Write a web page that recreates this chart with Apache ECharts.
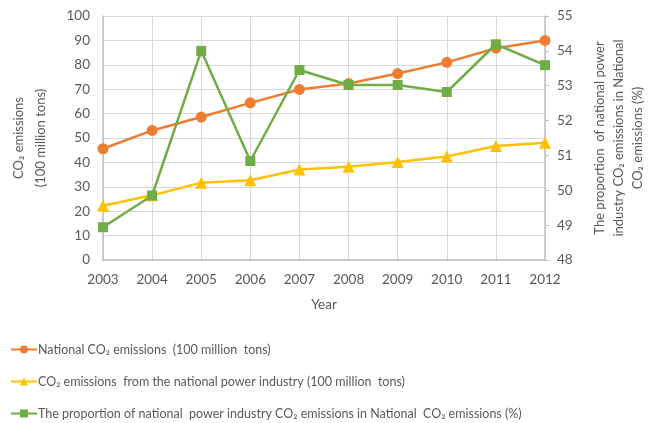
<!DOCTYPE html>
<html><head><meta charset="utf-8">
<script src="https://cdn.jsdelivr.net/npm/echarts@6/dist/echarts.min.js"></script>
<style>html,body{margin:0;padding:0;background:#fff}#c{width:671px;height:423px}</style>
</head><body><div id="c"></div>
<script>
const years = ['2003','2004','2005','2006','2007','2008','2009','2010','2011','2012'];
const nationalCO2 = [45.6, 53.1, 58.6, 64.4, 69.9, 72.3, 76.4, 81.0, 86.8, 90.0];
const powerCO2 = [22.2, 26.5, 31.7, 32.7, 37.1, 38.2, 40.2, 42.4, 46.7, 48.1];
const proportion = [48.94, 49.85, 54.0, 50.84, 53.45, 53.02, 53.02, 52.82, 54.19, 53.59];
const leftTicks = {min: 0, max: 100, interval: 10};
const rightTicks = {min: 48, max: 55, interval: 1};
const names = [
  'National CO₂ emissions  (100 million  tons)',
  'CO₂ emissions  from the national power industry (100 million  tons)',
  'The proportion of national  power industry CO₂ emissions in National  CO₂ emissions (%)'
];
const FONT = 'Lato, "Open Sans", sans-serif';
const TXT = '#595959';
const chart = echarts.init(document.getElementById('c'));
chart.setOption({
  animation: false,
  textStyle: {fontFamily: FONT, color: TXT},
  grid: {left: 90, right: 126, top: 16, bottom: 163, containLabel: false},
  legend: {
    orient: 'vertical', left: 5, top: 343, padding: [0, 5], itemGap: 19, itemWidth: 26, itemHeight: 10,
    height: 80,
    textStyle: {fontFamily: FONT, fontSize: 12.5, color: TXT, padding: [0,0,0,-4]},
    data: names
  },
  xAxis: {
    type: 'category', data: years, boundaryGap: false,
    name: 'Year', nameLocation: 'middle', nameGap: 38,
    nameTextStyle: {fontSize: 13.5, color: TXT, fontFamily: FONT},
    axisLine: {lineStyle: {color: '#BFBFBF', width: 1.5}},
    axisTick: {show: false},
    axisLabel: {fontSize: 13.5, color: TXT, margin: 13, fontFamily: FONT},
    splitLine: {show: true, lineStyle: {color: '#D9D9D9', width: 1}}
  },
  yAxis: [{
    type: 'value', min: leftTicks.min, max: leftTicks.max, interval: leftTicks.interval,
    name: 'CO₂ emissions\n(100 million tons)', nameLocation: 'middle', nameGap: 51, nameRotate: 90,
    nameTextStyle: {fontSize: 13, color: TXT, fontFamily: FONT, lineHeight: 22},
    axisLine: {show: true, lineStyle: {color: '#BFBFBF', width: 1.5}},
    axisTick: {show: false},
    axisLabel: {fontSize: 13.5, color: TXT, margin: 13, fontFamily: FONT},
    splitLine: {show: true, lineStyle: {color: '#D9D9D9', width: 1}}
  }, {
    type: 'value', min: rightTicks.min, max: rightTicks.max, interval: rightTicks.interval, position: 'right',
    name: 'The proportion  of national power\nindustry CO₂ emissions in National\nCO₂ emissions (%)',
    nameLocation: 'middle', nameGap: 45, nameRotate: 90,
    nameTextStyle: {fontSize: 13, color: TXT, fontFamily: FONT, lineHeight: 19},
    axisLine: {show: true, lineStyle: {color: '#BFBFBF', width: 1.5}},
    axisTick: {show: true, length: 4, lineStyle: {color: '#BFBFBF'}},
    axisLabel: {fontSize: 13.5, color: TXT, margin: 12, fontFamily: FONT},
    splitLine: {show: false}
  }],
  series: [{
    name: names[0], type: 'line', data: nationalCO2, yAxisIndex: 0,
    symbol: 'circle', symbolSize: 11,
    lineStyle: {color: '#ED7D31', width: 2.5}, itemStyle: {color: '#ED7D31'}, z: 3
  }, {
    name: names[1], type: 'line', data: powerCO2, yAxisIndex: 0,
    symbol: 'triangle', symbolSize: 12,
    lineStyle: {color: '#FFC000', width: 2.5}, itemStyle: {color: '#FFC000'}, z: 2
  }, {
    name: names[2], type: 'line', data: proportion, yAxisIndex: 1,
    symbol: 'rect', symbolSize: 10,
    lineStyle: {color: '#70AD47', width: 2.5}, itemStyle: {color: '#70AD47'}, z: 4
  }]
});
</script></body></html>
